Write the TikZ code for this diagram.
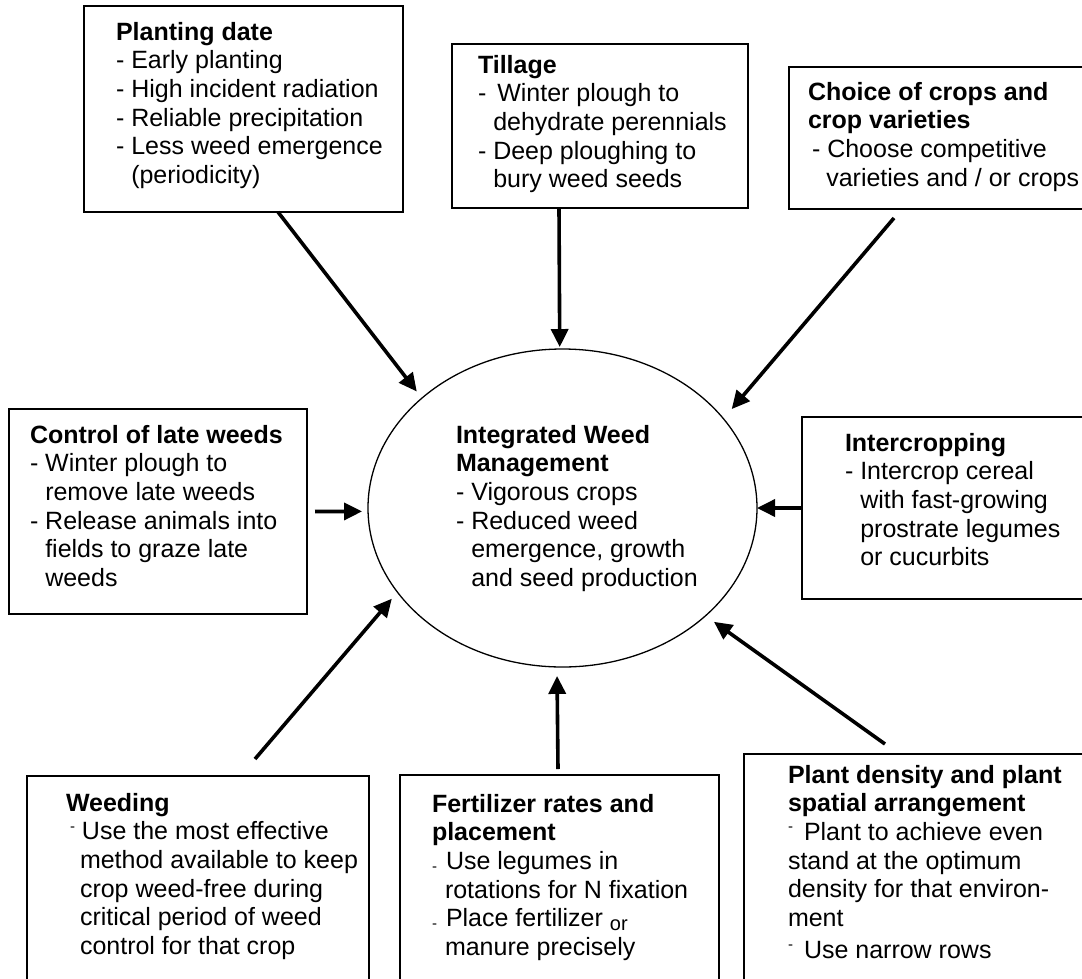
\documentclass[tikz,border=0pt]{standalone}
\usepackage{fontspec}
\setmainfont{Liberation Sans}
\usetikzlibrary{shapes.geometric,arrows.meta}
\newcommand{\ind}{\hphantom{-\ }}
\newcommand{\fl}{\rule{0pt}{20pt}}
\newcommand{\updash}[1]{\raisebox{#1}{\fontsize{15}{15}\selectfont -}}
\begin{document}
\begin{tikzpicture}[x=1pt,y=-1pt,
  box/.style={draw, line width=1.8pt, rectangle, anchor=north west, inner sep=0pt, outer sep=0pt},
  txt/.style={anchor=north west, inner sep=0pt, outer sep=0pt, align=left, font=\fontsize{25}{28.7}\selectfont},
  arr/.style={line width=3.6pt, -{Triangle[length=18pt,width=17pt]}},
]
\useasboundingbox (0,0) rectangle (1082,978);
\fill[white] (0,0) rectangle (1082,978);
\clip (0,0) rectangle (1082,978);

% boxes
\node[box, minimum width=319pt, minimum height=206pt] (pd) at (84,6) {};
\node[box, minimum width=296pt, minimum height=164pt] (tl) at (452,44) {};
\node[box, minimum width=310pt, minimum height=142pt] (ch) at (789,67) {};
\node[box, minimum width=298pt, minimum height=205pt] (ct) at (9,409) {};
\node[box, minimum width=300pt, minimum height=182pt] (ic) at (802,417) {};
\node[box, minimum width=342pt, minimum height=230pt] (wd) at (27,776) {};
\node[box, minimum width=319pt, minimum height=230pt] (ft) at (400,775) {};
\node[box, minimum width=350pt, minimum height=250pt] (plt) at (744,754) {};
\node[ellipse, draw, line width=1.3pt, minimum width=389pt, minimum height=318pt, inner sep=0pt, outer sep=0pt] (iwm) at (562.5,508) {};

% texts
\node[txt] (pdt) at (116,20) {\fl\textbf{Planting date}\\- Early planting\\- High incident radiation\\- Reliable precipitation\\- Less weed emergence\\\ind(periodicity)};
\node[txt] (tlt) at (478,53) {\fl\textbf{Tillage}\\-\ \hspace{4pt}Winter plough to\\\ind dehydrate perennials\\- Deep ploughing to\\\ind bury weed seeds};
\node[txt] (cht) at (808,80) {\fl\textbf{Choice of crops and}\\\textbf{crop varieties}\\\hspace{4pt}- Choose competitive\\\hspace{3pt}\ind varieties and / or crops};
\node[txt] (ict) at (845,431) {\fl\textbf{Intercropping}\\- Intercrop cereal\\\ind with fast-growing\\\ind prostrate legumes\\\ind or cucurbits};
\node[txt] (ctt) at (30,423) {\fl\textbf{Control of late weeds}\\- Winter plough to\\\ind remove late weeds\\- Release animals into\\\ind fields to graze late\\\ind weeds};
\node[txt] (iwmt) at (456,423) {\fl\textbf{Integrated Weed}\\\textbf{Management}\\- Vigorous crops\\- Reduced weed\\\ind emergence, growth\\\ind and seed production};
\node[txt] (wdt) at (66,791) {\fl\textbf{Weeding}\\\hspace{4pt}\updash{8pt}\hspace{7pt}Use the most effective\\\hspace{14pt}method available to keep\\\hspace{14pt}crop weed-free during\\\hspace{14pt}critical period of weed\\\hspace{14pt}control for that crop};
\node[txt] (ftt) at (432,792) {\fl\textbf{Fertilizer rates and}\\\textbf{placement}\\\updash{-2pt}\hspace{9pt}Use legumes in\\\hspace{13pt}rotations for N fixation\\\updash{-2pt}\hspace{9pt}Place fertilizer \raisebox{-4pt}{\fontsize{20}{20}\selectfont or}\\\hspace{13pt}manure precisely};
\node[txt] (pltt) at (788,763) {\fl\textbf{Plant density and plant}\\\textbf{spatial arrangement}\\\updash{9pt}\hspace{11pt}Plant to achieve even\\stand at the optimum\\density for that environ-\\ment\\[3pt]\updash{9pt}\hspace{11pt}Use narrow rows};

% arrows
\draw[arr, shorten >=8.4pt] ([xshift=194pt]pd.south west) -- (iwm.142.75);
\draw[arr, shorten >=2pt] ([xshift=107pt]tl.south west) -- (iwm.91.3);
\draw[arr, shorten >=12.7pt] ([shift={(105pt,-9pt)}]ch.south west) -- (iwm.29.9);
\draw[arr, shorten >=6pt] ([xshift=8pt]ct.east) -- (iwm.181);
\draw[arr] (ic.west) -- (iwm.east);
\draw[arr, shorten >=8.7pt] ([shift={(228pt,17pt)}]wd.north west) -- (iwm.207.1);
\draw[arr, shorten >=9pt] ([shift={(158pt,6pt)}]ft.north west) -- (iwm.268.4);
\draw[arr, shorten >=10.4pt] ([shift={(141pt,10pt)}]plt.north west) -- (iwm.323.9);
\end{tikzpicture}
\end{document}
